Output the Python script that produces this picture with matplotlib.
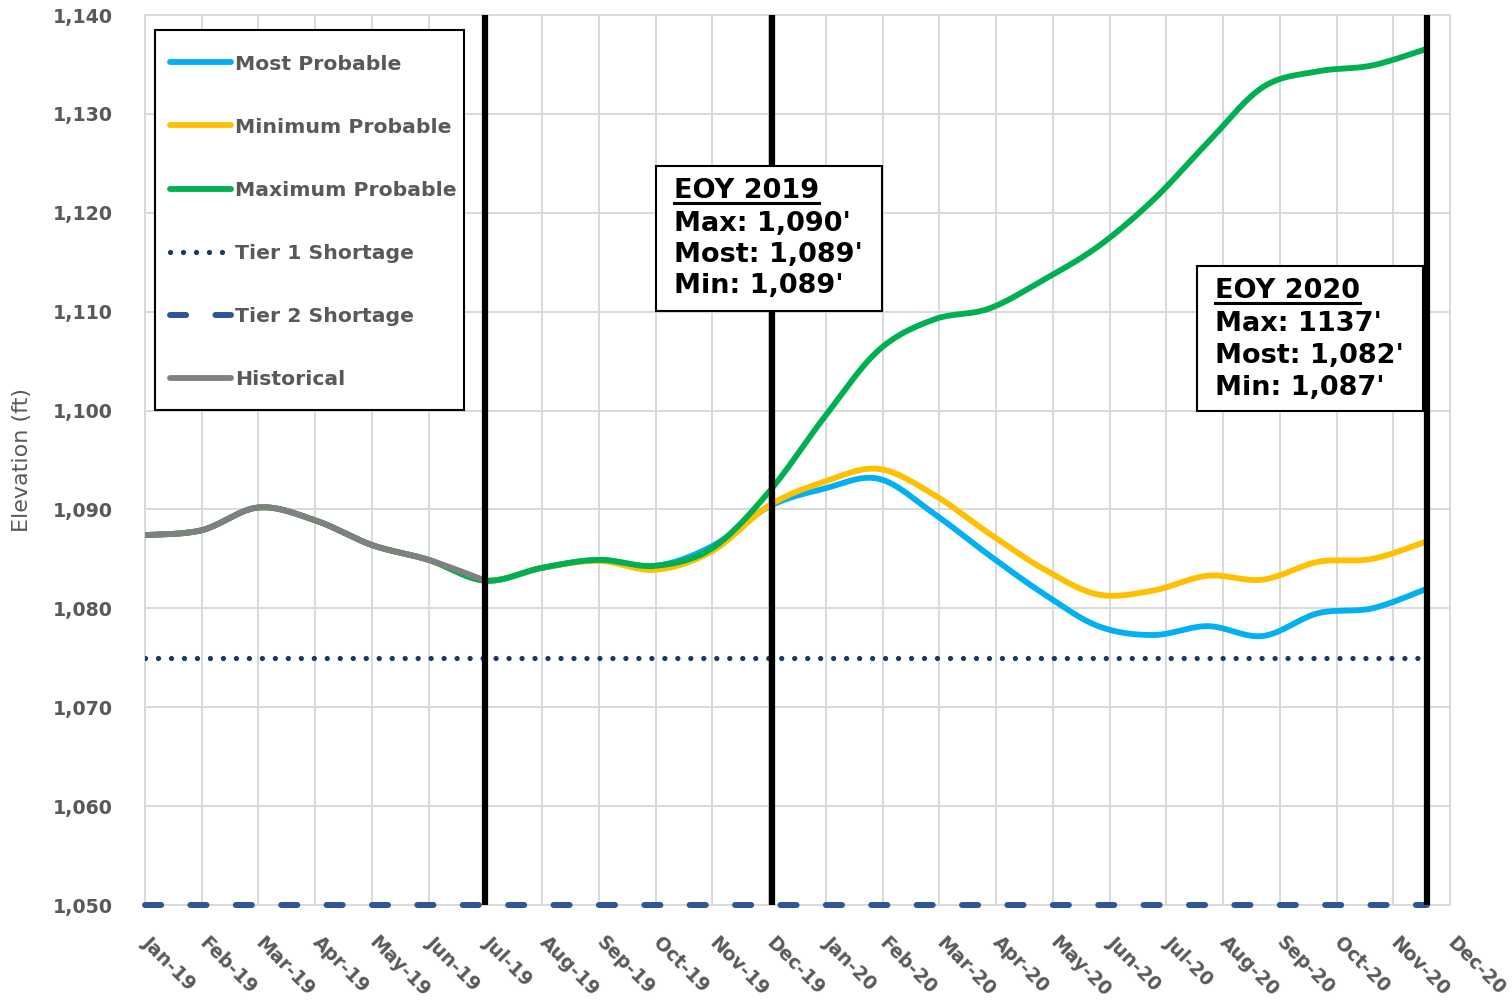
import numpy as np
import matplotlib
matplotlib.use("Agg")
import matplotlib.pyplot as plt
from matplotlib.patches import Rectangle
from matplotlib.lines import Line2D

# ---------------- data ----------------
months = ["Jan-19", "Feb-19", "Mar-19", "Apr-19", "May-19", "Jun-19", "Jul-19", "Aug-19",
          "Sep-19", "Oct-19", "Nov-19", "Dec-19", "Jan-20", "Feb-20", "Mar-20", "Apr-20",
          "May-20", "Jun-20", "Jul-20", "Aug-20", "Sep-20", "Oct-20", "Nov-20", "Dec-20"]

hist_x = [0, 1, 2, 3, 4, 5, 6]
historical = [1087.4, 1087.9, 1090.2, 1088.9, 1086.4, 1084.9, 1082.8]

fc_x = [0, 1, 2, 3, 4, 5, 6, 7, 8, 9, 10, 11, 11.97, 12.93, 13.9, 14.87, 15.83,
        16.8, 17.77, 18.73, 19.7, 20.67, 21.63, 22.6]
most_probable = [1087.4, 1087.9, 1090.2, 1088.9, 1086.4, 1084.9, 1082.8, 1084.1, 1084.9,
                 1084.3, 1086.3, 1090.3, 1092.1, 1093.1, 1089.6, 1085.4, 1081.5, 1078.2,
                 1077.3, 1078.2, 1077.2, 1079.5, 1080.0, 1082.0]
min_probable = [1087.4, 1087.9, 1090.2, 1088.9, 1086.4, 1084.9, 1082.8, 1084.1, 1084.8,
                1083.9, 1085.8, 1090.4, 1092.8, 1094.1, 1091.5, 1087.6, 1084.0, 1081.4,
                1081.8, 1083.3, 1082.9, 1084.7, 1085.0, 1086.8]
max_probable = [1087.4, 1087.9, 1090.2, 1088.9, 1086.4, 1084.9, 1082.8, 1084.1, 1084.9,
                1084.3, 1086.1, 1091.8, 1099.3, 1106.1, 1109.2, 1110.3, 1113.2, 1116.6,
                1121.3, 1127.1, 1132.7, 1134.3, 1134.9, 1136.6]
tier1_level = 1075
tier2_level = 1050

marker_x = [6, 11.05, 22.6]   # forecast start, EOY 2019, EOY 2020

eoy2019 = ["EOY 2019", "Max: 1,090'", "Most: 1,089'", "Min: 1,089'"]
eoy2020 = ["EOY 2020", "Max: 1137'", "Most: 1,082'", "Min: 1,087'"]

# ---------------- helpers ----------------
W, H = 1512, 1001


def fx(px):
    return px / W


def fy(py):
    return 1 - py / H


def smooth(x, y, n=30):
    """Excel-style smoothed line (Catmull-Rom Bezier through the points)."""
    P = np.column_stack([np.asarray(x, float), np.asarray(y, float)])
    E = np.vstack([P[0], P, P[-1]])
    out = []
    for i in range(len(P) - 1):
        p0, p1, p2, p3 = E[i], E[i + 1], E[i + 2], E[i + 3]
        c1 = p1 + (p2 - p0) / 6.0
        c2 = p2 - (p3 - p1) / 6.0
        t = np.linspace(0, 1, n, endpoint=(i == len(P) - 2))[:, None]
        out.append((1 - t) ** 3 * p1 + 3 * (1 - t) ** 2 * t * c1
                   + 3 * (1 - t) * t ** 2 * c2 + t ** 3 * p2)
    a = np.vstack(out)
    return a[:, 0], a[:, 1]


# ---------------- figure ----------------
fig = plt.figure(figsize=(W / 100, H / 100), dpi=100)
ax_l, ax_b = 145, 905
ax_w, ax_h = 1450 - 145, 905 - 15
ax = fig.add_axes([fx(145), fy(905), fx(1450) - fx(145), fy(15) - fy(905)])

grey_txt = "#595959"
grid_c = "#D9D9D9"
lw_main = 4.2

sx, sy = smooth(fc_x, most_probable)
ax.plot(sx, sy, color="#00B0F0", lw=lw_main, solid_capstyle="round", label="Most Probable", zorder=3)
sx, sy = smooth(fc_x, min_probable)
ax.plot(sx, sy, color="#FFC000", lw=lw_main, solid_capstyle="round", label="Minimum Probable", zorder=3)
sx, sy = smooth(fc_x, max_probable)
ax.plot(sx, sy, color="#00B050", lw=lw_main, solid_capstyle="round", label="Maximum Probable", zorder=3)

ax.plot([fc_x[0], fc_x[-1]], [tier1_level, tier1_level], color="#1F3864", lw=3.8,
        dashes=(0.01, 2.45), dash_capstyle="round", label="Tier 1 Shortage", zorder=3)
ax.plot([fc_x[0], fc_x[-1]], [tier2_level, tier2_level], color="#2F5597", lw=4.3,
        dashes=(2.7, 4.9), dash_capstyle="round", label="Tier 2 Shortage", zorder=3,
        clip_on=False)

hx, hy = smooth(hist_x, historical)
ax.plot(hx, hy, color="#808080", lw=lw_main, solid_capstyle="round", label="Historical", zorder=3)

for mx in marker_x:
    ax.axvline(mx, color="black", lw=4.5, zorder=4)

ax.set_xlim(0, 23)
ax.set_ylim(1050, 1140)
ax.set_xticks(range(len(months)))
ax.set_xticklabels(months)
ax.set_yticks(range(1050, 1141, 10))
ax.set_yticklabels([f"{v:,}" for v in range(1050, 1141, 10)])
ax.grid(True, color=grid_c, lw=1.4, zorder=0)
ax.set_axisbelow(True)
for s in ax.spines.values():
    s.set_color(grid_c)
    s.set_linewidth(1.4)
ax.tick_params(axis="both", length=0, colors=grey_txt)
ax.tick_params(axis="y", pad=23, labelsize=13.7)
ax.tick_params(axis="x", pad=25, labelsize=13.6)
for t in ax.get_yticklabels():
    t.set_fontweight("bold")
for t in ax.get_xticklabels():
    t.set_fontweight("bold")
    t.set_rotation(-45)
    t.set_rotation_mode("anchor")
    t.set_ha("left")
    t.set_va("center")

fig.text(fx(22), fy(460), "Elevation (ft)", rotation=90, ha="center", va="center",
         color=grey_txt, fontsize=16, family=["Liberation Sans Narrow", "DejaVu Sans"])

# legend: frame drawn separately so the padding can match the reference
ax.add_patch(Rectangle((fx(155), fy(410)), fx(464) - fx(155), fy(30) - fy(410),
                       transform=fig.transFigure, fc="white", ec="black", lw=1.5,
                       clip_on=False, zorder=9))
leg = ax.legend(loc="upper left",
                bbox_to_anchor=((170 - ax_l) / ax_w, (ax_b - 54.5) / ax_h),
                borderaxespad=0, borderpad=0, frameon=False,
                handlelength=3.0, handletextpad=0.2, labelspacing=2.16,
                prop={"weight": "bold", "size": 14.7})
for t in leg.get_texts():
    t.set_color(grey_txt)
leg.set_zorder(10)


def eoy_box(lines, box, text_x, baselines):
    x0, y0, x1, y1 = box
    ax.add_patch(Rectangle((fx(x0), fy(y1)), fx(x1) - fx(x0), fy(y0) - fy(y1),
                           transform=fig.transFigure, fc="white", ec="black", lw=1.5,
                           clip_on=False, zorder=6))
    texts = []
    for line, b in zip(lines, baselines):
        texts.append(ax.text(fx(text_x), fy(b), line, transform=fig.transFigure,
                             ha="left", va="baseline", fontsize=19.5, fontweight="bold",
                             color="black", zorder=7, clip_on=False))
    return texts


t19 = eoy_box(eoy2019, (656, 166, 882, 311), 674, [198, 231, 262, 293])
t20 = eoy_box(eoy2020, (1197, 266, 1423, 411), 1215, [298, 331, 363, 395])

fig.canvas.draw()
r = fig.canvas.get_renderer()
for t, base in ((t19[0], 198), (t20[0], 298)):
    bb = t.get_window_extent(r)
    ax.add_line(Line2D([fx(bb.x0), fx(bb.x1)], [fy(base + 5), fy(base + 5)],
                       transform=fig.transFigure, color="black", lw=2.2,
                       clip_on=False, zorder=7))

fig.savefig("out.png", dpi=100)
